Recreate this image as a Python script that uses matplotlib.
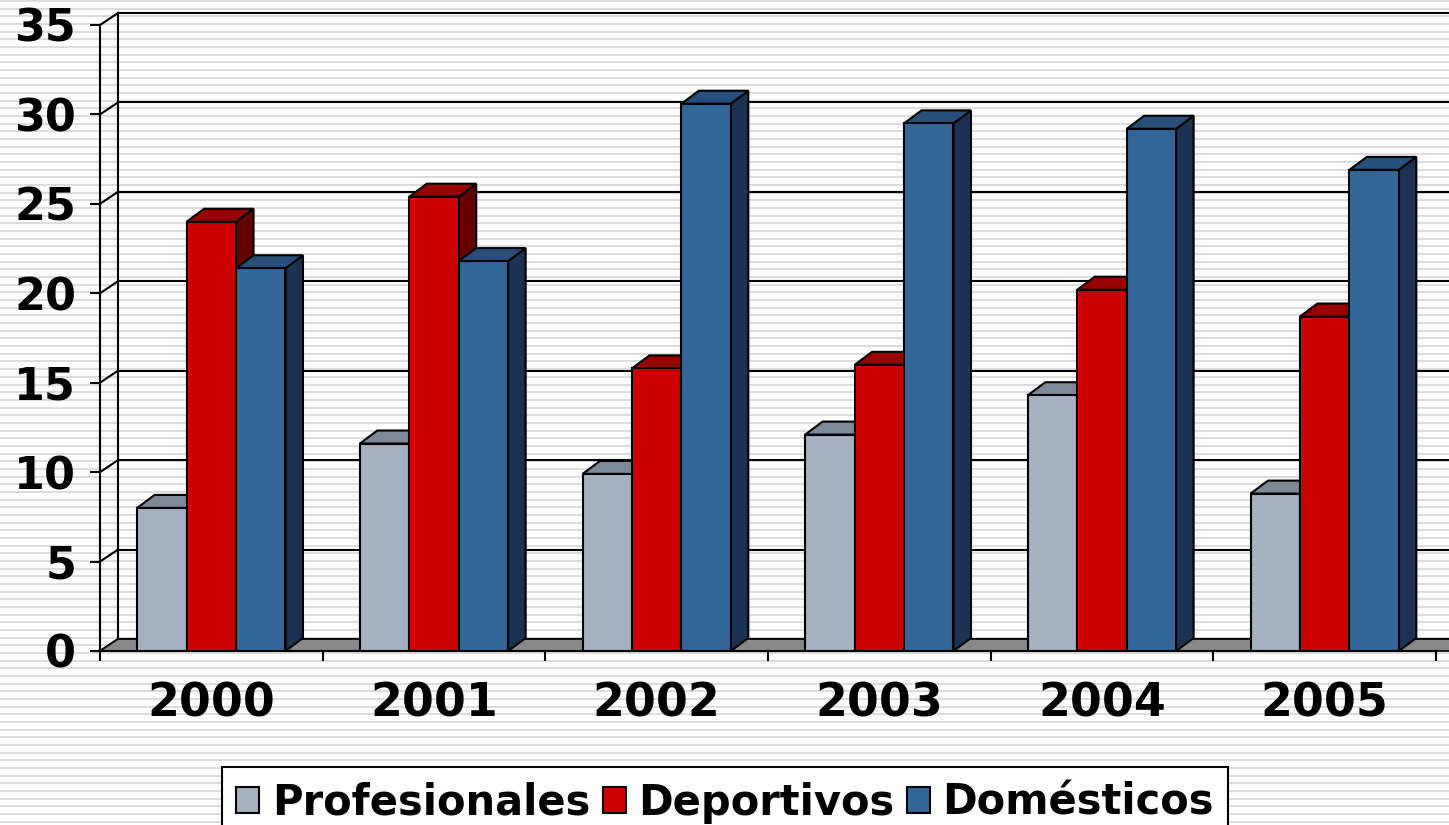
import numpy as np
import matplotlib.pyplot as plt
from matplotlib.patches import Polygon, Patch

years = ['2000', '2001', '2002', '2003', '2004', '2005']
profesionales = [8.0, 11.6, 9.9, 12.1, 14.3, 8.8]
deportivos = [24.0, 25.4, 15.8, 16.0, 20.2, 18.7]
domesticos = [21.4, 21.8, 30.6, 29.5, 29.2, 26.9]
series_names = ['Profesionales', 'Deportivos', 'Domésticos']
yticks = [0, 5, 10, 15, 20, 25, 30, 35]

# front / top / side colour of each series
colors = [('#a3b1c1', '#7d8997', '#5f6a78'),
          ('#cc0000', '#990000', '#660000'),
          ('#336699', '#284f79', '#1b3350')]

W, H = 1449, 825
fig = plt.figure(figsize=(W / 100, H / 100), dpi=100)

# striped slide background
bg = fig.add_axes([0, 0, 1, 1], zorder=-10)
bg.set_xlim(0, W)
bg.set_ylim(H, 0)
bg.axis('off')
bg.hlines(np.arange(1.0, H, 7.67), 0, W, color='#dcdcdc', lw=1.5)

ax = fig.add_axes([100 / W, 174 / H, 1336 / W, 626 / H])
ax.patch.set_visible(False)
ncat = len(years)
ax.set_xlim(0, ncat)
ax.set_ylim(0, 35)

# depth of the fake 3d box, converted from pixels to data units
px_x = ncat / 1336
px_y = 35 / 626
DX, DY = 18 * px_x, 12 * px_y
BDX, BDY = 17.5 * px_x, 13 * px_y

# back wall, side wall and floor
for v in yticks:
    ax.plot([DX, ncat + 2 * DX], [v + DY, v + DY], color='black', lw=1.5,
            clip_on=False, zorder=1)
    ax.plot([0, DX], [v, v + DY], color='black', lw=1.5, clip_on=False, zorder=1)
ax.plot([DX, DX], [DY, 35 + DY], color='black', lw=1.5, clip_on=False, zorder=1)
ax.add_patch(Polygon([(0, 0), (DX, DY), (ncat + 2 * DX, DY), (ncat + DX, 0)],
                     closed=True, fc='#888888', ec='black', lw=1.2,
                     clip_on=False, zorder=2))

# bars
w = 0.222
offsets = [-w, 0, w]
z = 3
for i in range(ncat):
    for j, vals in enumerate([profesionales, deportivos, domesticos]):
        v = vals[i]
        x0 = i + 0.5 + offsets[j] - w / 2
        x1 = x0 + w
        front, top, side = colors[j]
        ax.add_patch(Polygon([(x1, 0), (x1, v), (x1 + BDX, v + BDY), (x1 + BDX, BDY)],
                             closed=True, fc=side, ec='black', lw=1.5,
                             clip_on=False, zorder=z))
        ax.add_patch(Polygon([(x0, v), (x0 + BDX, v + BDY), (x1 + BDX, v + BDY), (x1, v)],
                             closed=True, fc=top, ec='black', lw=1.5,
                             clip_on=False, zorder=z))
        ax.bar(x0, v, width=w, align='edge', color=front, edgecolor='black',
               lw=1.5, zorder=z + 1)
        z += 2

for s in ['top', 'right']:
    ax.spines[s].set_visible(False)
ax.spines['left'].set_linewidth(1.5)
ax.spines['bottom'].set_linewidth(1.5)

ax.set_yticks(yticks)
ax.set_yticklabels([str(t) for t in yticks], fontsize=32, fontweight='bold')
ax.tick_params(axis='y', length=7.2, width=1.5, pad=10)

ax.set_xticks(np.arange(ncat + 1))
ax.set_xticklabels([])
ax.tick_params(axis='x', which='major', length=7.2, width=1.5)
ax.set_xticks(np.arange(ncat) + 0.5, minor=True)
ax.set_xticklabels(years, minor=True, fontsize=33, fontweight='bold')
ax.tick_params(axis='x', which='minor', length=0, pad=22)

handles = [Patch(facecolor=c[0], edgecolor='black', lw=1.5) for c in colors]
leg = fig.legend(handles, series_names, loc='upper center', ncol=3,
                 bbox_to_anchor=(725 / W, 1 - 767 / H),
                 prop={'size': 30, 'weight': 'bold'},
                 handlelength=0.55, handleheight=0.6, handletextpad=0.3,
                 columnspacing=0.3, borderpad=0.35, fancybox=False,
                 framealpha=1, edgecolor='black', borderaxespad=0)
leg.get_frame().set_linewidth(1.5)

fig.savefig('out.png', dpi=100)
